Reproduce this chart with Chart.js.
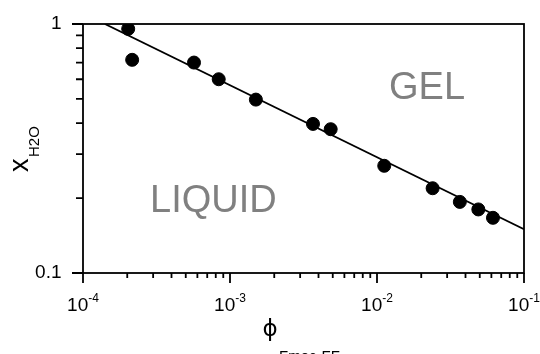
<!DOCTYPE html>
<html>
<head>
<meta charset="utf-8">
<script src="https://cdn.jsdelivr.net/npm/chart.js@4.4.1/dist/chart.umd.min.js"></script>
<style>
    body { margin: 0; background: #fff; }
    #wrap { width: 540px; height: 354px; }
</style>
</head>
<body>
<div id="wrap"><canvas id="phaseChart" width="540" height="354"></canvas></div>
<script>
// measured points (phi, x_H2O)
const phiValues = [2.03e-4, 2.16e-4, 5.69e-4, 8.38e-4, 1.50e-3, 3.67e-3, 4.84e-3, 1.12e-2, 2.39e-2, 3.66e-2, 4.89e-2, 6.15e-2];
const waterValues = [0.956, 0.718, 0.700, 0.600, 0.497, 0.397, 0.378, 0.2695, 0.219, 0.193, 0.180, 0.1666];

// fitted line endpoints
const fitPhi = [1.41e-4, 0.1];
const fitWater = [1.0, 0.150];

const xMajorTicks = [1e-4, 1e-3, 1e-2, 1e-1];
const xTickExponents = ['-4', '-3', '-2', '-1'];
const yMajorTicks = [0.1, 1];
const yTickLabels = ['0.1', '1'];
const minorMultipliers = [2, 3, 4, 5, 6, 7, 8, 9];

const FONT = 'Liberation Sans, Arial, sans-serif';

const axesPlugin = {
    id: 'axesPlugin',
    afterDraw(chart) {
        const ctx = chart.ctx;
        const area = chart.chartArea;
        const xs = chart.scales.x;
        const ys = chart.scales.y;
        ctx.save();
        ctx.strokeStyle = '#000';
        ctx.lineWidth = 1.8;
        ctx.strokeRect(area.left, area.top, area.right - area.left, area.bottom - area.top);

        // x ticks (outward)
        ctx.beginPath();
        xMajorTicks.forEach((v, i) => {
            const px = xs.getPixelForValue(v);
            ctx.moveTo(px, area.bottom);
            ctx.lineTo(px, area.bottom + 10);
            if (i < xMajorTicks.length - 1) {
                minorMultipliers.forEach(m => {
                    const mx = xs.getPixelForValue(v * m);
                    ctx.moveTo(mx, area.bottom);
                    ctx.lineTo(mx, area.bottom + 5);
                });
            }
        });
        // y ticks (outward)
        yMajorTicks.forEach((v, i) => {
            const py = ys.getPixelForValue(v);
            ctx.moveTo(area.left, py);
            ctx.lineTo(area.left - 11, py);
            if (i < yMajorTicks.length - 1) {
                minorMultipliers.forEach(m => {
                    const my = ys.getPixelForValue(v * m);
                    ctx.moveTo(area.left, my);
                    ctx.lineTo(area.left - 7, my);
                });
            }
        });
        ctx.stroke();

        // x tick labels: 10 with superscript exponent
        ctx.fillStyle = '#000';
        ctx.textBaseline = 'alphabetic';
        xMajorTicks.forEach((v, i) => {
            const px = xs.getPixelForValue(v);
            ctx.font = '19px ' + FONT;
            const baseW = ctx.measureText('10').width;
            ctx.font = '12px ' + FONT;
            const expW = ctx.measureText(xTickExponents[i]).width;
            const start = px - (baseW + expW) / 2;
            ctx.textAlign = 'left';
            ctx.font = '19px ' + FONT;
            ctx.fillText('10', start, 311);
            ctx.font = '12px ' + FONT;
            ctx.fillText(xTickExponents[i], start + baseW, 301.5);
        });

        // y tick labels
        ctx.font = '19px ' + FONT;
        ctx.textAlign = 'right';
        ctx.textBaseline = 'middle';
        yMajorTicks.forEach((v, i) => {
            ctx.fillText(yTickLabels[i], 61.5, ys.getPixelForValue(v));
        });

        // x title: phi with subscript
        ctx.textAlign = 'left';
        ctx.textBaseline = 'alphabetic';
        ctx.font = '23px DejaVu Sans, sans-serif';
        ctx.fillText('\u03D5', 262.5, 336);
        ctx.font = '15px ' + FONT;
        ctx.fillText('Fmoc-FF', 279, 361);

        // y title: x with subscript, rotated
        ctx.save();
        ctx.translate(27.5, 172);
        ctx.rotate(-Math.PI / 2);
        ctx.font = '27px ' + FONT;
        ctx.fillText('x', 0, 0);
        ctx.font = '15px ' + FONT;
        ctx.fillText('H2O', 15, 11.5);
        ctx.restore();

        // region labels
        ctx.fillStyle = '#808080';
        ctx.font = '38px ' + FONT;
        ctx.fillText('GEL', 389, 98.5);
        ctx.fillText('LIQUID', 150, 212);
        ctx.restore();
    }
};

new Chart(document.getElementById('phaseChart').getContext('2d'), {
    type: 'scatter',
    data: {
        datasets: [{
            type: 'scatter',
            data: phiValues.map((p, i) => ({ x: p, y: waterValues[i] })),
            backgroundColor: '#000',
            borderColor: '#000',
            pointRadius: 6.5,
            pointHoverRadius: 6.5,
            order: 1
        }, {
            type: 'line',
            data: fitPhi.map((p, i) => ({ x: p, y: fitWater[i] })),
            borderColor: '#000',
            borderWidth: 1.8,
            pointRadius: 0,
            fill: false,
            order: 2
        }]
    },
    options: {
        responsive: false,
        animation: false,
        devicePixelRatio: 1,
        layout: {
            padding: { left: 83, top: 24, right: 16, bottom: 81 }
        },
        plugins: {
            legend: { display: false },
            tooltip: { enabled: false }
        },
        scales: {
            x: {
                type: 'logarithmic',
                min: 1e-4,
                max: 0.1,
                display: false
            },
            y: {
                type: 'logarithmic',
                min: 0.1,
                max: 1,
                display: false
            }
        }
    },
    plugins: [axesPlugin]
});
</script>
</body>
</html>
